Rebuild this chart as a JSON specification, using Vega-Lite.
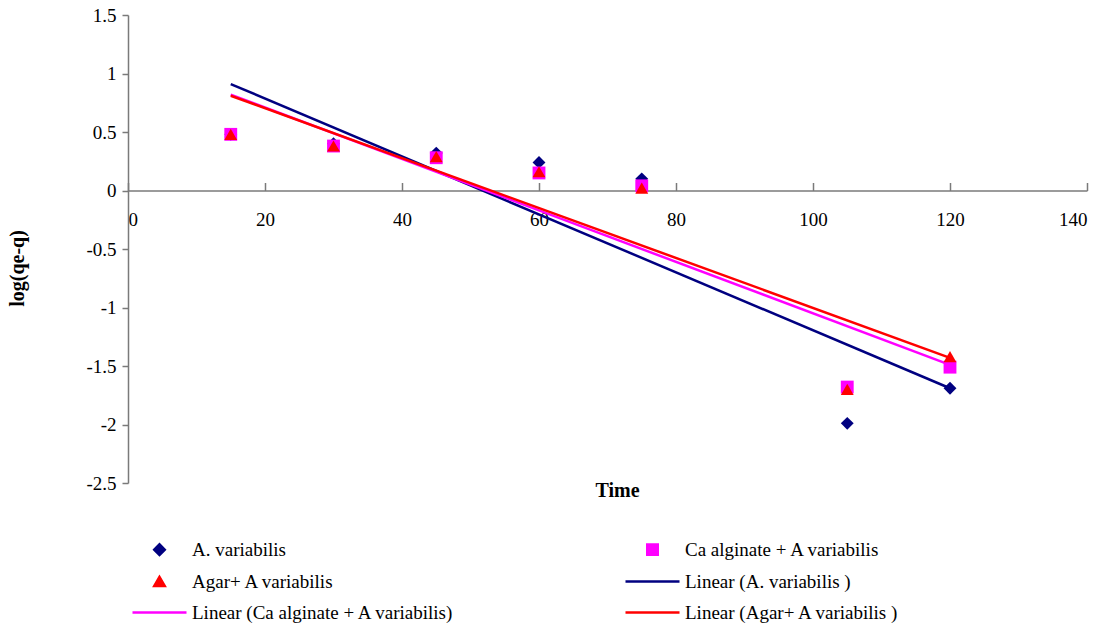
{
  "$schema": "https://vega.github.io/schema/vega-lite/v6.json",
  "autosize": "none",
  "padding": {"left": 128, "top": 15, "right": 32, "bottom": 144},
  "width": 959,
  "height": 468,
  "background": "white",
  "config": {
    "view": {"stroke": null},
    "font": "Liberation Serif",
    "axis": {"grid": false, "domainColor": "#7a7a7a", "tickColor": "#7a7a7a", "labelFont": "Liberation Serif", "titleFont": "Liberation Serif", "labelColor": "black", "titleColor": "black", "labelFontSize": 19, "titleFontSize": 20, "titleFontWeight": "bold", "domainWidth": 1.5, "tickWidth": 1.5}
  },
  "datasets": {
    "pts": [
      {"t": 15, "v": 0.48, "series": "A. variabilis"},
      {"t": 30, "v": 0.40, "series": "A. variabilis"},
      {"t": 45, "v": 0.32, "series": "A. variabilis"},
      {"t": 60, "v": 0.24, "series": "A. variabilis"},
      {"t": 75, "v": 0.10, "series": "A. variabilis"},
      {"t": 105, "v": -1.99, "series": "A. variabilis"},
      {"t": 120, "v": -1.69, "series": "A. variabilis"},
      {"t": 15, "v": 0.48, "series": "Ca alginate + A variabilis"},
      {"t": 30, "v": 0.38, "series": "Ca alginate + A variabilis"},
      {"t": 45, "v": 0.28, "series": "Ca alginate + A variabilis"},
      {"t": 60, "v": 0.15, "series": "Ca alginate + A variabilis"},
      {"t": 75, "v": 0.04, "series": "Ca alginate + A variabilis"},
      {"t": 105, "v": -1.68, "series": "Ca alginate + A variabilis"},
      {"t": 120, "v": -1.51, "series": "Ca alginate + A variabilis"},
      {"t": 15, "v": 0.48, "series": "Agar+ A variabilis"},
      {"t": 30, "v": 0.38, "series": "Agar+ A variabilis"},
      {"t": 45, "v": 0.29, "series": "Agar+ A variabilis"},
      {"t": 60, "v": 0.16, "series": "Agar+ A variabilis"},
      {"t": 75, "v": 0.02, "series": "Agar+ A variabilis"},
      {"t": 105, "v": -1.70, "series": "Agar+ A variabilis"},
      {"t": 120, "v": -1.42, "series": "Agar+ A variabilis"}
    ],
    "lines": [
      {"t": 15, "v": 0.91, "series": "Linear (A. variabilis )"},
      {"t": 120, "v": -1.69, "series": "Linear (A. variabilis )"},
      {"t": 15, "v": 0.82, "series": "Linear (Ca alginate + A variabilis)"},
      {"t": 120, "v": -1.49, "series": "Linear (Ca alginate + A variabilis)"},
      {"t": 15, "v": 0.81, "series": "Linear (Agar+ A variabilis )"},
      {"t": 120, "v": -1.43, "series": "Linear (Agar+ A variabilis )"}
    ]
  },
  "layer": [
    {
      "data": {"name": "lines"},
      "mark": {"type": "line", "strokeWidth": 2.5},
      "encoding": {
        "x": {"field": "t", "type": "quantitative"},
        "y": {"field": "v", "type": "quantitative"},
        "color": {"field": "series", "type": "nominal"}
      }
    },
    {
      "data": {"name": "pts"},
      "mark": {"type": "point", "filled": true, "opacity": 1, "size": 165},
      "encoding": {
        "x": {
          "field": "t", "type": "quantitative",
          "scale": {"domain": [0, 140], "nice": false, "zero": false},
          "axis": {"values": [0, 20, 40, 60, 80, 100, 120, 140], "labelExpr": "'' + datum.value", "labelFont": "Liberation Serif", "labelFontSize": 19, "offset": -292.5, "tickSize": -8, "labelPadding": 28, "title": "Time", "titleFont": "Liberation Serif", "titleX": 489, "titleY": 300, "titleBaseline": "middle", "titleAnchor": null, "titleAlign": "center"}
        },
        "y": {
          "field": "v", "type": "quantitative",
          "scale": {"domain": [-2.5, 1.5], "nice": false, "zero": false},
          "axis": {"values": [-2.5, -2, -1.5, -1, -0.5, 0, 0.5, 1, 1.5], "labelExpr": "'' + datum.value", "labelFont": "Liberation Serif", "labelFontSize": 19, "tickSize": 6, "labelPadding": 6, "title": "log(qe-q)", "titleFont": "Liberation Serif", "titleX": -111, "titleY": 253, "titleAnchor": null, "titleAlign": "center", "titleBaseline": "middle", "titleAngle": -90}
        },
        "color": {
          "field": "series", "type": "nominal",
          "scale": {
            "domain": ["A. variabilis", "Ca alginate + A variabilis", "Agar+ A variabilis", "Linear (A. variabilis )", "Linear (Ca alginate + A variabilis)", "Linear (Agar+ A variabilis )"],
            "range": ["#000080", "#FF00FF", "#FF0000", "#000080", "#FF00FF", "#FF0000"]
          },
          "legend": {
            "title": null,
            "orient": "none",
            "direction": "horizontal",
            "legendX": 22,
            "legendY": 525,
            "columns": 2,
            "columnPadding": 165,
            "rowPadding": 11,
            "padding": 0,
            "symbolSize": 110,
            "symbolStrokeWidth": 2.5,
            "labelFont": "Liberation Serif",
            "labelFontSize": 19,
            "labelColor": "black",
            "labelOffset": 23,
            "labelLimit": 500,
            "encode": {
              "symbols": {
                "update": {
                  "fill": {"scale": "color", "field": "value"},
                  "stroke": {"scale": "color", "field": "value"},
                  "opacity": {"value": 1}
                }
              }
            }
          }
        },
        "shape": {
          "field": "series", "type": "nominal",
          "scale": {
            "domain": ["A. variabilis", "Ca alginate + A variabilis", "Agar+ A variabilis", "Linear (A. variabilis )", "Linear (Ca alginate + A variabilis)", "Linear (Agar+ A variabilis )"],
            "range": ["diamond", "square", "triangle-up", "M-5.15,0H5.15", "M-5.15,0H5.15", "M-5.15,0H5.15"]
          },
          "legend": null
        }
      }
    }
  ]
}
